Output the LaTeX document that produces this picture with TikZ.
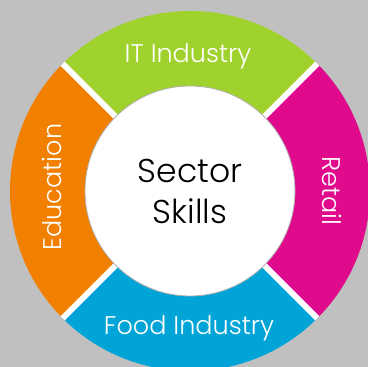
\documentclass[tikz,border=0pt]{standalone}
\usepackage{fontspec}
\setmainfont{Poppins}[UprightFont=* Light]
\definecolor{bggray}{RGB}{192,192,192}
\definecolor{segGreen}{RGB}{160,210,45}
\definecolor{segOrange}{RGB}{242,128,0}
\definecolor{segMagenta}{RGB}{224,10,140}
\definecolor{segBlue}{RGB}{0,164,214}
\definecolor{rimGray}{RGB}{175,175,175}
\tikzset{
  seglabel/.style={text=white, font=\fontsize{25.5}{30}\selectfont, inner sep=0pt, anchor=base},
  gapline/.style={white, line width=6pt},
}
\begin{document}
\begin{tikzpicture}[x=1pt,y=1pt]
\useasboundingbox (0,0) rectangle (368,367);
\fill[bggray] (0,0) rectangle (368,367);
\coordinate (c) at (190,176);
\begin{scope}
\clip (0,0) rectangle (368,367);
\fill[segGreen] (c) -- ++(45:180) arc[start angle=45,end angle=135,radius=180] -- cycle;
\fill[segOrange] (c) -- ++(135:180) arc[start angle=135,end angle=225,radius=180] -- cycle;
\fill[segBlue] (c) -- ++(225:180) arc[start angle=225,end angle=315,radius=180] -- cycle;
\fill[segMagenta] (c) -- ++(315:180) arc[start angle=315,end angle=405,radius=180] -- cycle;
\clip (c) circle[radius=180];
\draw[gapline] (c) -- ++(45:200);
\draw[gapline] (c) -- ++(135:200);
\draw[gapline] (c) -- ++(225:200);
\draw[gapline] (c) -- ++(315:200);
\end{scope}
\node[circle, fill=white, draw=rimGray, line width=0.8pt, minimum size=210pt, inner sep=0pt] (inner) at (c) {};
\node[text=black, font=\fontsize{33}{41}\selectfont, align=center, inner sep=0pt] (center) at (190,176) {Sector\\Skills};
\node[seglabel] (it) at (188,304) {IT Industry};
\node[seglabel] (food) at (189,32) {Food Industry};
\node[seglabel, rotate=90] (edu) at (61,180) {Education};
\node[seglabel, rotate=-90] (retail) at (323,176) {Retail};
\end{tikzpicture}
\end{document}
